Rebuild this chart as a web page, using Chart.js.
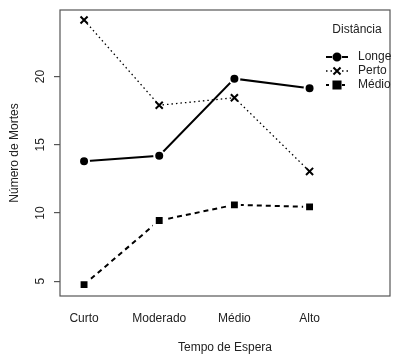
<!DOCTYPE html>
<html>
<head>
<meta charset="utf-8">
<script src="https://cdn.jsdelivr.net/npm/chart.js@4"></script>
<style>
  body { margin: 0; background: #fff; }
  #wrap { width: 400px; height: 360px; }
</style>
</head>
<body>
<div id="wrap"><canvas id="myChart"></canvas></div>
<script>
// categorias e valores
var tempos = ['Curto', 'Moderado', 'Médio', 'Alto'];
var longe = [13.8, 14.2, 19.85, 19.15];
var perto = [24.15, 17.9, 18.45, 13.05];
var medio = [4.75, 9.45, 10.6, 10.45];
var yTicks = [5, 10, 15, 20];

var txt = '#222';
var fontFam = 'Liberation Sans, Arial, sans-serif';

function pts(arr) {
    return arr.map(function (v, i) { return { x: i + 1, y: v }; });
}

// caixa em volta do grafico + legenda
var boxPlugin = {
    id: 'box',
    afterDraw: function (chart) {
        var c = chart.ctx;
        var a = chart.chartArea;
        c.save();
        c.strokeStyle = '#555';
        c.lineWidth = 1.2;
        c.strokeRect(a.left, a.top, a.right - a.left, a.bottom - a.top);

        c.fillStyle = txt;
        c.font = '12px ' + fontFam;
        c.textBaseline = 'middle';
        c.textAlign = 'center';
        c.fillText('Distância', 357, 30);

        var rows = [
            { label: 'Longe', dash: [], w: 2, style: 'circle', r: 3.5 },
            { label: 'Perto', dash: [1.5, 3], w: 1.3, style: 'crossRot', r: 5 },
            { label: 'Médio', dash: [3, 3], w: 2, style: 'rect', r: 5 }
        ];
        rows.forEach(function (row, i) {
            var y = 57 + i * 14;
            c.strokeStyle = '#000';
            c.lineWidth = row.w;
            c.setLineDash(row.dash);
            c.beginPath();
            c.moveTo(326, y);
            c.lineTo(332, y);
            c.moveTo(342, y);
            c.lineTo(348, y);
            c.stroke();
            c.setLineDash([]);
            c.fillStyle = '#000';
            c.lineWidth = 2;
            Chart.helpers.drawPoint(c, { pointStyle: row.style, radius: row.r, borderWidth: 2 }, 337, y);
            c.fillStyle = txt;
            c.textAlign = 'left';
            c.fillText(row.label, 358, y);
        });
        c.restore();
    }
};

var ctx = document.getElementById('myChart');
var grafico = new Chart(ctx, {
    type: 'line',
    data: {
        datasets: [{
            label: 'Longe',
            data: pts(longe),
            borderColor: '#000',
            borderWidth: 2,
            pointStyle: 'circle',
            pointRadius: 5,
            pointBackgroundColor: '#000',
            pointBorderColor: '#fff',
            pointBorderWidth: 2
        }, {
            label: 'Perto',
            data: pts(perto),
            borderColor: '#000',
            borderWidth: 1.3,
            borderDash: [1.5, 3],
            pointStyle: 'crossRot',
            pointRadius: 5,
            pointBorderColor: '#000',
            pointBorderWidth: 2
        }, {
            label: 'Médio',
            data: pts(medio),
            borderColor: '#000',
            borderWidth: 2,
            borderDash: [5, 4],
            pointStyle: 'rect',
            pointRadius: 7,
            pointBackgroundColor: '#000',
            pointBorderColor: '#fff',
            pointBorderWidth: 3
        }]
    },
    options: {
        responsive: true,
        maintainAspectRatio: false,
        animation: false,
        layout: { padding: { top: 5, right: 7, left: 0, bottom: 0 } },
        plugins: {
            legend: { display: false },
            tooltip: { enabled: false }
        },
        scales: {
            x: {
                type: 'linear',
                min: 0.68,
                max: 5.07,
                afterFit: function (s) {
                    s.height = 64;
                    s.paddingLeft = 0;
                    s.paddingRight = 0;
                },
                grid: { display: false, drawTicks: false },
                border: { display: false },
                ticks: {
                    stepSize: 1,
                    includeBounds: false,
                    autoSkip: false,
                    maxRotation: 0,
                    padding: 15,
                    color: txt,
                    font: { size: 12, family: fontFam },
                    callback: function (v) {
                        return Number.isInteger(v) && v >= 1 && v <= tempos.length ? tempos[v - 1] : '';
                    }
                },
                title: {
                    display: true,
                    text: 'Tempo de Espera',
                    color: txt,
                    font: { size: 12, family: fontFam },
                    padding: { top: 0, bottom: 5 }
                }
            },
            y: {
                min: 3.92,
                max: 24.88,
                afterFit: function (s) {
                    s.width = 60;
                    s.paddingTop = 0;
                    s.paddingBottom = 0;
                },
                afterBuildTicks: function (s) {
                    s.ticks = yTicks.map(function (v) { return { value: v }; });
                },
                grid: { display: true, drawOnChartArea: false, drawTicks: true, tickLength: 6, color: '#555', lineWidth: 1.2 },
                border: { display: false },
                ticks: {
                    minRotation: 90,
                    maxRotation: 90,
                    crossAlign: 'center',
                    padding: 7,
                    color: txt,
                    font: { size: 12, family: fontFam }
                },
                title: {
                    display: true,
                    text: 'Número de Mortes',
                    color: txt,
                    font: { size: 12, family: fontFam },
                    padding: { top: 7, bottom: 0 }
                }
            }
        }
    },
    plugins: [boxPlugin]
});
</script>
</body>
</html>
